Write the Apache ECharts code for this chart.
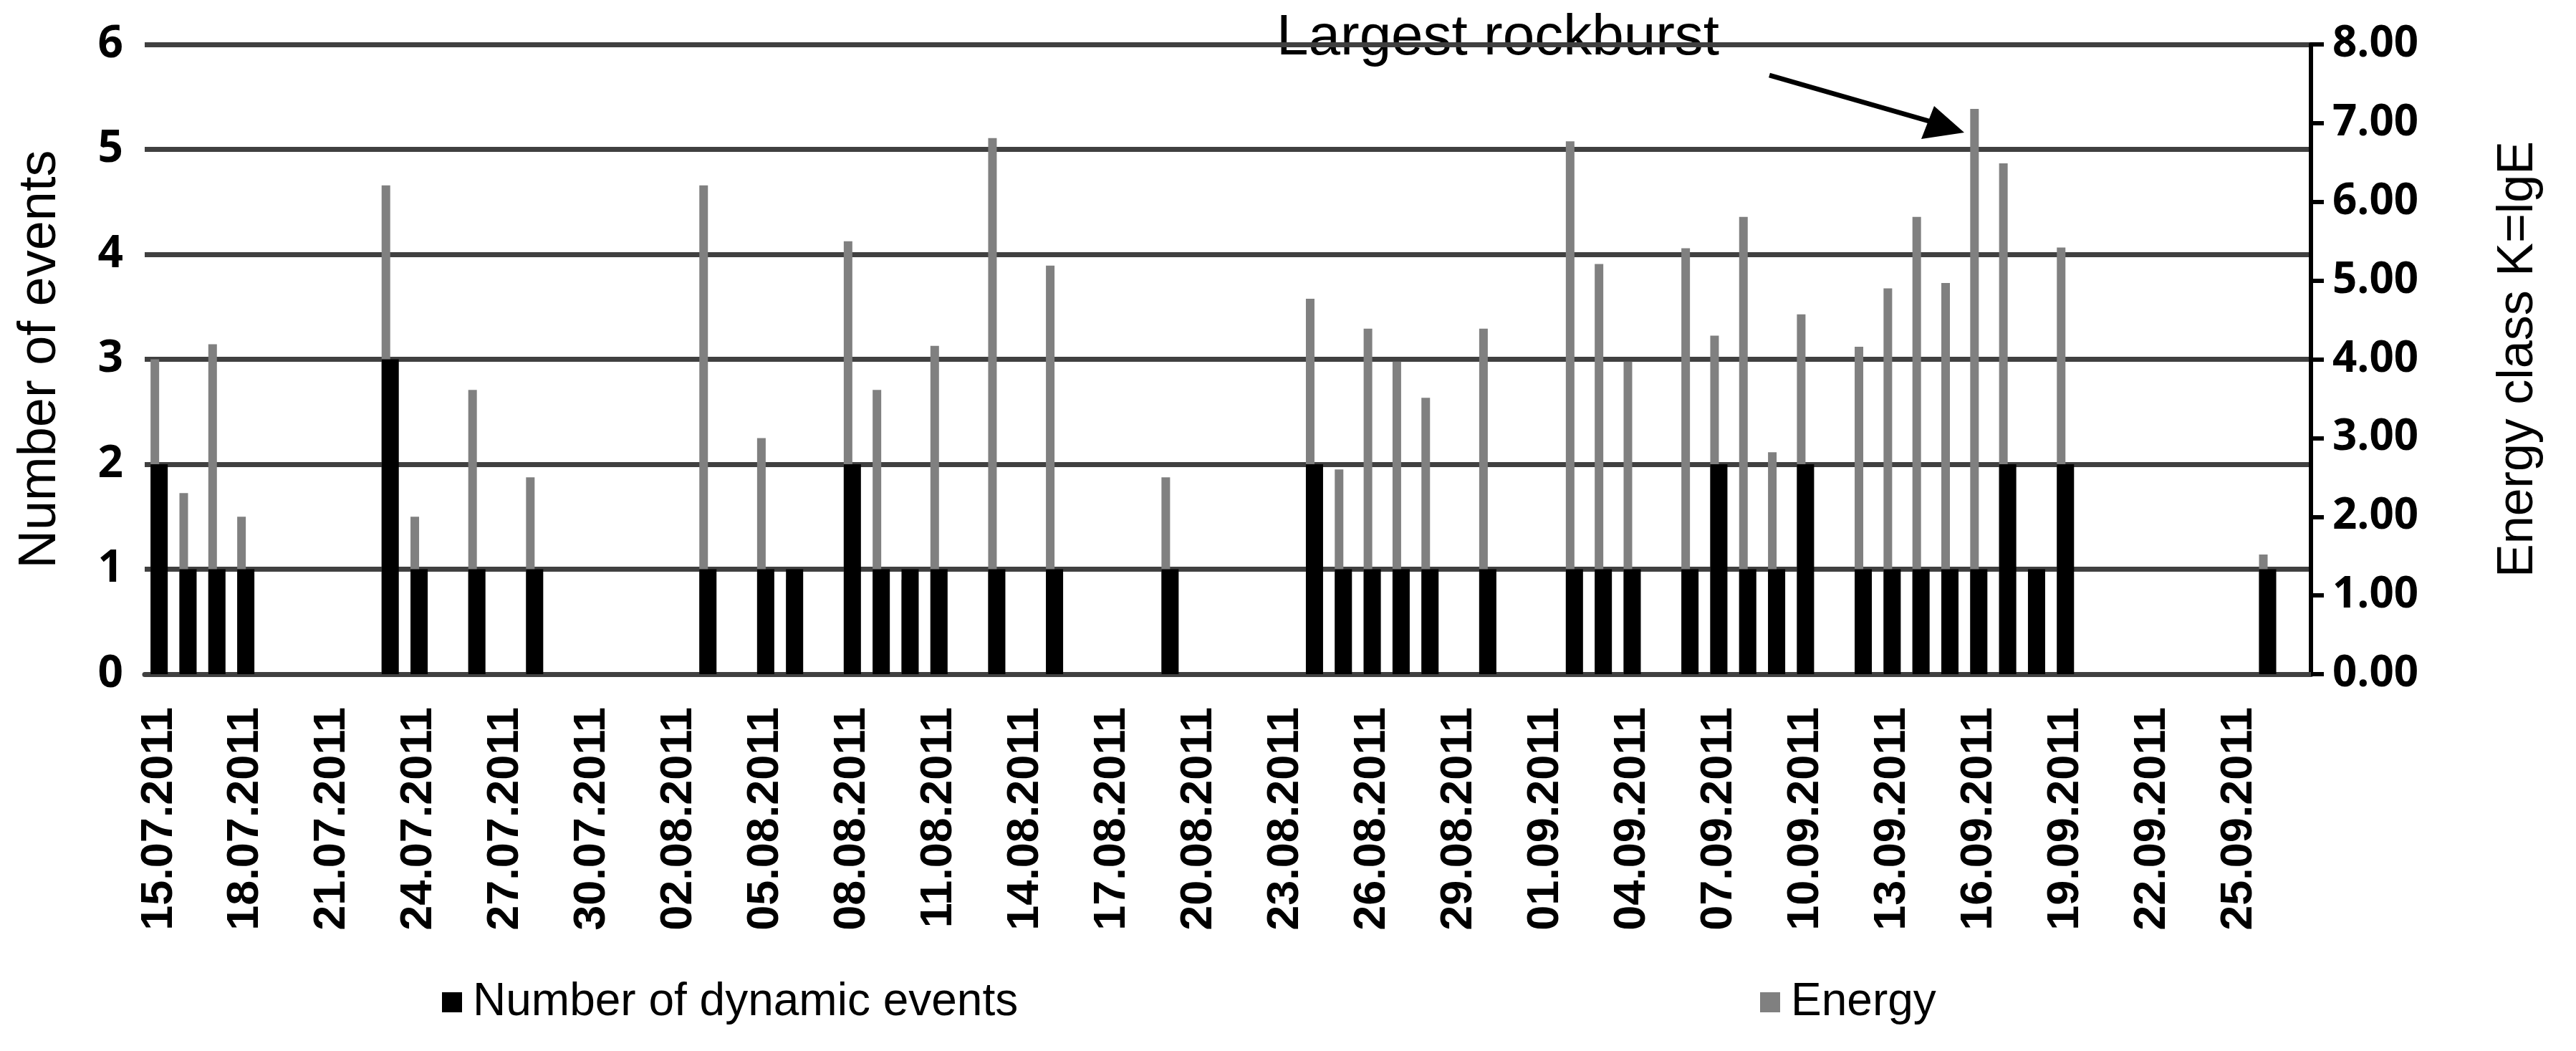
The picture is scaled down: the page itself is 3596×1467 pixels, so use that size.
<!DOCTYPE html>
<html><head><meta charset="utf-8">
<script src="https://cdn.jsdelivr.net/npm/echarts@6/dist/echarts.min.js"></script>
<style>html,body{margin:0;padding:0;background:#fff}#c{width:3596px;height:1467px}</style>
</head><body><div id="c"></div>
<script>
const dates = ["15.07.2011","16.07.2011","17.07.2011","18.07.2011","19.07.2011","20.07.2011","21.07.2011","22.07.2011","23.07.2011","24.07.2011","25.07.2011","26.07.2011","27.07.2011","28.07.2011","29.07.2011","30.07.2011","31.07.2011",
"01.08.2011","02.08.2011","03.08.2011","04.08.2011","05.08.2011","06.08.2011","07.08.2011","08.08.2011","09.08.2011","10.08.2011","11.08.2011","12.08.2011","13.08.2011","14.08.2011","15.08.2011","16.08.2011","17.08.2011","18.08.2011","19.08.2011","20.08.2011","21.08.2011","22.08.2011","23.08.2011","24.08.2011","25.08.2011","26.08.2011","27.08.2011","28.08.2011","29.08.2011","30.08.2011","31.08.2011",
"01.09.2011","02.09.2011","03.09.2011","04.09.2011","05.09.2011","06.09.2011","07.09.2011","08.09.2011","09.09.2011","10.09.2011","11.09.2011","12.09.2011","13.09.2011","14.09.2011","15.09.2011","16.09.2011","17.09.2011","18.09.2011","19.09.2011","20.09.2011","21.09.2011","22.09.2011","23.09.2011","24.09.2011","25.09.2011","26.09.2011","27.09.2011"];
const events = [2,1,1,1,'-','-','-','-',3,1,'-',1,'-',1,'-','-','-',
'-','-',1,'-',1,1,'-',2,1,1,1,'-',1,'-',1,'-','-','-',1,'-','-','-','-',2,1,1,1,1,'-',1,'-',
'-',1,1,1,'-',1,2,1,1,2,'-',1,1,1,1,1,2,1,2,'-','-','-','-','-','-',1,'-'];
const energy = [4.0,2.3,4.19,2.0,'-','-','-','-',6.21,2.0,'-',3.61,'-',2.5,'-','-','-',
'-','-',6.21,'-',3.0,1.2,'-',5.5,3.61,1.2,4.17,'-',6.81,'-',5.19,'-','-','-',2.5,'-','-','-','-',4.77,2.6,4.39,3.97,3.51,'-',4.39,'-',
'-',6.77,5.21,3.97,'-',5.41,4.3,5.81,2.82,4.57,'-',4.16,4.9,5.81,4.97,7.18,6.49,1.2,5.42,'-','-','-','-','-','-',1.52,'-'];
const leftTicks = [0,1,2,3,4,5,6];
const rightTicks = [0,1,2,3,4,5,6,7,8];

const chart = echarts.init(document.getElementById('c'));
chart.setOption({
  animation:false,
  backgroundColor:'#fff',
  grid:{left:202,right:370,top:62,bottom:526},
  legend:[
    {data:['Number of dynamic events'],left:612,top:1362,itemWidth:28,itemHeight:28,icon:'rect',
     textStyle:{fontSize:64,fontFamily:'Liberation Sans',color:'#000',padding:[0,0,0,10]}},
    {data:['Energy'],left:2452,top:1362,itemWidth:28,itemHeight:28,icon:'rect',
     textStyle:{fontSize:64,fontFamily:'Liberation Sans',color:'#000',padding:[0,0,0,10]}}
  ],
  xAxis:{type:'category',data:dates,
    axisLine:{lineStyle:{color:'#404040',width:7}},axisTick:{show:false},
    axisLabel:{interval:2,rotate:90,fontSize:63,fontWeight:'bold',fontFamily:'Liberation Sans',color:'#000',margin:46}},
  yAxis:[
    {type:'value',min:0,max:6,interval:1,position:'left',
     name:'Number of events',nameLocation:'middle',nameGap:108,nameRotate:90,
     nameTextStyle:{fontSize:74,fontFamily:'Liberation Sans',color:'#000'},
     axisLine:{show:false},axisTick:{show:false},
     axisLabel:{fontSize:62,fontWeight:'bold',fontFamily:'Open Sans',color:'#000',margin:30},
     splitLine:{lineStyle:{color:'#404040',width:7}}},
    {type:'value',min:0,max:8,interval:1,position:'right',
     name:'Energy class K=lgE',nameLocation:'middle',nameGap:255,nameRotate:90,
     nameTextStyle:{fontSize:70,fontFamily:'Liberation Sans',color:'#000'},
     axisLine:{show:true,lineStyle:{color:'#000',width:6}},
     axisTick:{show:true,length:18,lineStyle:{color:'#000',width:6}},
     axisLabel:{fontSize:60,fontWeight:'bold',fontFamily:'Open Sans',color:'#000',margin:30,formatter:v=>v.toFixed(2)},
     splitLine:{show:false}}
  ],
  series:[
    {name:'Energy',type:'bar',yAxisIndex:1,data:energy,barWidth:12,itemStyle:{color:'#808080'},z:2},
    {name:'Number of dynamic events',type:'bar',yAxisIndex:0,data:events,barWidth:24,barGap:'-100%',itemStyle:{color:'#000'},z:3}
  ],
  graphic:[
    {type:'text',left:1782,top:14,style:{text:'Largest rockburst',fontSize:80,fontFamily:'Liberation Sans',fill:'#000'}},
    {type:'line',shape:{x1:2470,y1:105,x2:2710,y2:174},style:{stroke:'#000',lineWidth:7}},
    {type:'polygon',shape:{points:[[2742,185],[2682,194],[2700,148]]},style:{fill:'#000'}}
  ]
});
</script></body></html>
